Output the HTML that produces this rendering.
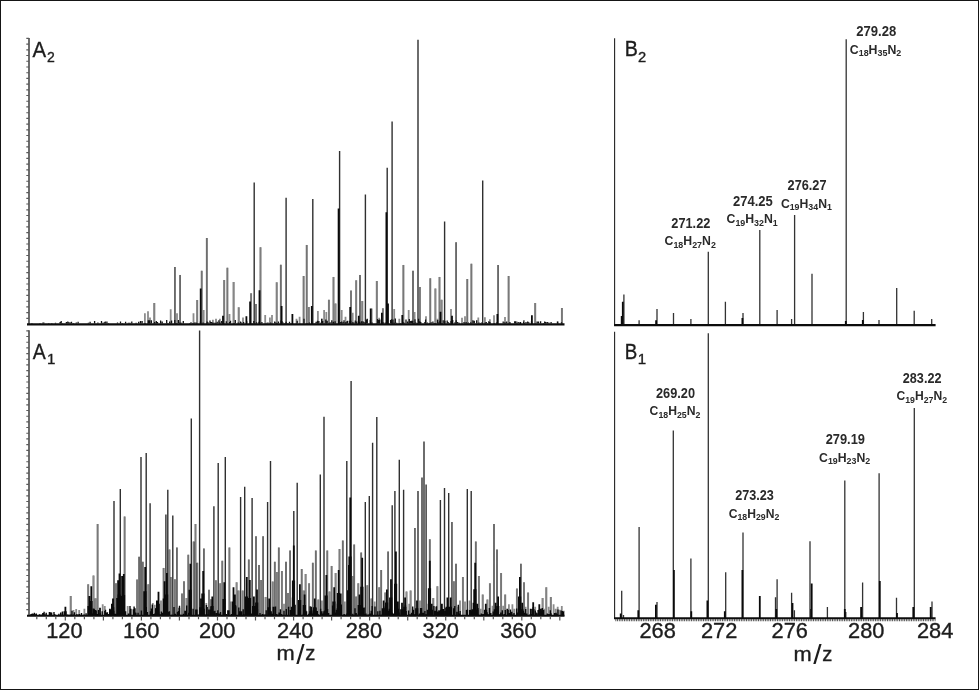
<!DOCTYPE html>
<html lang="en"><head><meta charset="utf-8"><title>Mass spectra A1 A2 B1 B2</title>
<style>html,body{margin:0;padding:0;background:#fff}body{width:979px;height:690px;overflow:hidden}svg{display:block}text{font-family:"Liberation Sans",sans-serif;fill:#1c1c1c;stroke:#1c1c1c;stroke-width:0.35px}.b{font-weight:bold;fill:#2a2a2a;stroke:none}</style></head><body>
<svg width="979" height="690" viewBox="0 0 979 690">
<rect x="0" y="0" width="979" height="690" fill="#fff"/>
<rect x="0.5" y="0.5" width="978" height="689" fill="none" stroke="#151515" stroke-width="1"/>
<g fill="none">
<path d="M144.9 324.3V313.3M148 324.3V311.2M150 324.3V317.4M170.7 324.3V309.2M177 324.3V313.3M193.5 324.3V313.3M203.7 324.3V310M212.9 324.3V319.8M216 324.3V318.8M219.9 324.3V318.8M229.5 324.3V314.1M243 324.3V317.4M265.2 324.3V315.1M269.9 324.3V317.4M272 324.3V315.1M296.5 324.3V318.8M299.6 324.3V316.8M317.9 324.3V311M322 324.3V318.8M324.1 324.3V310M326.3 324.3V312M341.7 324.3V310M345.5 324.3V316.8M352.7 324.3V312.7M371.7 324.3V308.6M379.2 324.3V317.8M394.2 324.3V309M399.3 324.3V318.8M408.7 324.3V310M414.6 324.3V312M426 324.3V316.2M437.5 324.3V318.8M451 324.3V309M462 324.3V317.8M465 324.3V316.2M478.3 324.3V317.4M484.9 324.3V317.3M489.9 324.3V319.3M494 324.3V315.2M505 324.3V317M516.8 324.3V321.4M523.9 324.3V320M557.8 324.3V321.4" stroke="#8c8c8c" stroke-width="1.8"/>
<path d="M154.3 324.3V303.1M197.2 324.3V300M224.2 324.3V280M233.6 324.3V282M238.7 324.3V307.2M251.1 324.3V293.3M256 324.3V303.9M276.7 324.3V282.2M308.8 324.3V307M328.9 324.3V299.8M335.5 324.3V303.5M351 324.3V290.6M356.2 324.3V280.2M362.3 324.3V301M376.8 324.3V281M382.9 324.3V308.2M419.9 324.3V287.1M435.4 324.3V288.4M441.6 324.3V299.8M535.2 324.3V303M561.9 324.3V308.1" stroke="#5c5c5c" stroke-width="1.9"/>
<path d="M154.3 324.3V303.1M197.2 324.3V300M224.2 324.3V280M233.6 324.3V282M238.7 324.3V307.2M251.1 324.3V293.3M256 324.3V303.9M276.7 324.3V282.2M308.8 324.3V307M328.9 324.3V299.8M335.5 324.3V303.5M351 324.3V290.6M356.2 324.3V280.2M362.3 324.3V301M376.8 324.3V281M382.9 324.3V308.2M419.9 324.3V287.1M435.4 324.3V288.4M441.6 324.3V299.8M535.2 324.3V303M561.9 324.3V308.1" stroke="#acacac" stroke-width="0.6"/>
<path d="M174.9 324.3V267.1M180.1 324.3V274.9M201.7 324.3V270.8M206.8 324.3V238.1M227.4 324.3V267.7M260.5 324.3V247.3M280.8 324.3V264.7M303.6 324.3V276.1M306.7 324.3V244.9M333.5 324.3V276.9M360 324.3V274.9M403.4 324.3V264.9M413 324.3V270.8M430.3 324.3V278.2M439.5 324.3V276.9M456.1 324.3V242.2M467.3 324.3V279M471.4 324.3V263.7M498.1 324.3V265M508.6 324.3V276.1" stroke="#4c4c4c" stroke-width="1.8"/>
<path d="M174.9 324.3V267.1M180.1 324.3V274.9M201.7 324.3V270.8M206.8 324.3V238.1M227.4 324.3V267.7M260.5 324.3V247.3M280.8 324.3V264.7M303.6 324.3V276.1M306.7 324.3V244.9M333.5 324.3V276.9M360 324.3V274.9M403.4 324.3V264.9M413 324.3V270.8M430.3 324.3V278.2M439.5 324.3V276.9M456.1 324.3V242.2M467.3 324.3V279M471.4 324.3V263.7M498.1 324.3V265M508.6 324.3V276.1" stroke="#a0a0a0" stroke-width="0.6"/>
<path d="M254.2 324.3V182.6M286.1 324.3V197.8M312.8 324.3V198.9M339.6 324.3V151.1M365.4 324.3V194.4M387.2 324.3V167.8M392.1 324.3V121.6M418 324.3V39.7M444.6 324.3V221.4M482.7 324.3V180.6" stroke="#303030" stroke-width="1.4"/>
<path d="M31.9 323.5V323M40 323.5V323M43 323.5V322.4M43.8 323.5V322.6M48.8 323.5V323M51.8 323.5V322.9M55.5 323.5V322.7M60.1 323.5V322.1M61.2 323.5V321M62.1 323.5V323M66.4 323.5V322M67.8 323.5V321.5M68.9 323.5V322.2M70.3 323.5V322.6M71.5 323.5V321.7M73.3 323.5V322.9M76.3 323.5V322.4M78.1 323.5V321.7M88.4 323.5V322.7M90.1 323.5V321.8M94.6 323.5V321.1M97.9 323.5V322.6M101.5 323.5V321.1M103 323.5V322.8M104.4 323.5V322.3M105.3 323.5V321.4M106.9 323.5V321.5M108.5 323.5V323.1M117.5 323.5V322.5M120.5 323.5V321.6M122.3 323.5V322.9M125.6 323.5V321.7M128.3 323.5V322.8M129.2 323.5V322.7M130 323.5V322.8M131.8 323.5V321.6M136.1 323.5V322.8M138.7 323.5V321.8M140.5 323.5V320.9M142.1 323.5V321.1M145 323.5V323M148.3 323.5V320.2M149.6 323.5V320.3M151.4 323.5V320.2M154.6 323.5V322.1M156.3 323.5V321M157.5 323.5V322M160.6 323.5V320.5M162.2 323.5V321.5M166.7 323.5V320.1M167.9 323.5V322.9M169.7 323.5V321.6M171.6 323.5V320.6M174.8 323.5V320M176.3 323.5V323.1M178.4 323.5V320.1M179.9 323.5V322.5M181.6 323.5V322.8M183.3 323.5V321M189.7 323.5V323M191 323.5V322.3M192.7 323.5V322.9M194.4 323.5V322.6M195.8 323.5V322.5M196.6 323.5V322.8M200.4 323.5V321.6M203.1 323.5V322.4M207.1 323.5V321.4M208.4 323.5V322.4M210 323.5V320.5M211.3 323.5V322.1M212.6 323.5V322.6M214.1 323.5V322.8M215.4 323.5V322.7M217.2 323.5V321.7M218.9 323.5V320.3M219.9 323.5V322.4M221.7 323.5V321M226.3 323.5V321.3M229.6 323.5V321.9M230.5 323.5V320.7M234.1 323.5V322.9M235.3 323.5V320M238.2 323.5V322.5M240.5 323.5V321.6M241.3 323.5V322.4M243.6 323.5V322.1M246.7 323.5V321.3M252.1 323.5V322.9M253.8 323.5V321.1M256.6 323.5V322.3M259 323.5V321.8M261.9 323.5V322.1M266.9 323.5V322.8M268 323.5V322.4M270.7 323.5V322.5M274.7 323.5V321.4M275.8 323.5V322.6M276.8 323.5V323.1M278.4 323.5V321.6M281 323.5V320.4M281.9 323.5V321.1M283.1 323.5V322.6M284.8 323.5V322.9M286.1 323.5V321.8M287.9 323.5V323.1M289.5 323.5V321.7M291 323.5V322.9M297.2 323.5V320.8M304 323.5V318.8M307.1 323.5V323M309.4 323.5V322.4M315.1 323.5V323M316.1 323.5V321.8M317.5 323.5V320.7M318.9 323.5V320.9M320.6 323.5V322.7M321.7 323.5V318.7M322.7 323.5V320.9M325.8 323.5V319.5M327.2 323.5V320.8M330.1 323.5V322.2M331.8 323.5V320.3M333.4 323.5V321.8M335.1 323.5V321.2M340.3 323.5V321.9M341.7 323.5V321.5M343.2 323.5V322.3M344 323.5V320.3M345.5 323.5V322.2M346.9 323.5V321.3M347.7 323.5V320.8M349.8 323.5V320.8M350.8 323.5V320.8M352.6 323.5V322.3M353.8 323.5V322.4M355.3 323.5V320.6M356.7 323.5V321.4M358.6 323.5V320.7M359.7 323.5V321.9M361.5 323.5V321.2M363 323.5V321.2M364.1 323.5V322.2M365.4 323.5V322.4M366.3 323.5V319.5M367.3 323.5V318.7M370.3 323.5V320.1M372.1 323.5V322.5M377.6 323.5V319M378.5 323.5V320.1M379.8 323.5V319.6M383.1 323.5V322.3M385.2 323.5V322.5M387.4 323.5V323M390.6 323.5V320M391.5 323.5V319.2M393 323.5V319.4M394.1 323.5V322.8M395.3 323.5V318.5M396.7 323.5V322.8M400.4 323.5V323.1M403.2 323.5V322.2M404.2 323.5V322.8M406 323.5V319.6M407.6 323.5V321.5M409.3 323.5V319.1M410.7 323.5V320.9M411.5 323.5V320.8M412.7 323.5V320.7M414.2 323.5V323.1M415 323.5V319.2M415.9 323.5V322.4M417.1 323.5V323.1M418.6 323.5V318.7M419.7 323.5V321.3M420.8 323.5V321.9M424.6 323.5V322.3M425.6 323.5V319.4M427.5 323.5V322.5M429.3 323.5V322.9M431.2 323.5V322.3M432.9 323.5V321.5M434.1 323.5V322.9M435.4 323.5V323M437.6 323.5V320.1M438.5 323.5V322.6M440 323.5V320.8M442 323.5V322.9M443.2 323.5V320.2M444.9 323.5V320.8M447.2 323.5V320.6M448.5 323.5V322.3M449.3 323.5V322.9M451 323.5V321M452.7 323.5V320.1M454.7 323.5V322.5M456.2 323.5V320.3M457.7 323.5V322M459.3 323.5V322.7M464 323.5V322M466.1 323.5V322M468.4 323.5V322.5M469.8 323.5V323M470.8 323.5V322.2M472.9 323.5V320.2M474.3 323.5V320.7M476.7 323.5V320.2M479 323.5V322.6M480.5 323.5V323.1M481.5 323.5V322.4M485.3 323.5V322.4M486.3 323.5V322M487.8 323.5V322.9M488.8 323.5V321.2M489.9 323.5V321.9M494.3 323.5V322.9M496.5 323.5V322.4M503.2 323.5V321.6M504.9 323.5V322.2M506.7 323.5V321.4M509.6 323.5V322.2M510.4 323.5V322.4M514.7 323.5V321.3M515.6 323.5V321.3M518.2 323.5V321.9M523.6 323.5V321.6M524.4 323.5V323.1M526 323.5V322.1M527.7 323.5V321.5M528.8 323.5V322.2M531.5 323.5V321.3M537.1 323.5V321.5M538.5 323.5V321.4M540.6 323.5V321.3M543.4 323.5V323.1M544.7 323.5V321.4M545.7 323.5V322M547.3 323.5V321.9M548.8 323.5V322.6M551.1 323.5V322M557.5 323.5V321.6M561.5 323.5V322.3" stroke="#111" stroke-width="1.3"/>
<path d="M200.7 324.3V288.6M223 324.3V315.7M246.4 324.3V316.2M250.1 324.3V301.4M259.5 324.3V290.2M281.6 324.3V305.9M292.4 324.3V314.1M311.8 324.3V305.9M338.6 324.3V208.5M350.2 324.3V307M358.8 324.3V315.7M370.7 324.3V308.6M381.9 324.3V312.7M386.4 324.3V212.2M388 324.3V303.5M402.3 324.3V315.1M440.5 324.3V311.7M452 324.3V315.7M497.4 324.3V314M520.3 324.3V321.9M531.9 324.3V315.2" stroke="#0a0a0a" stroke-width="1.8"/>
<path d="M29.0 38V325" stroke="#3c3c3c" stroke-width="1.5"/>
<path d="M26.3 38.4H29.0M26.3 44.1H29.0M26.3 49.8H29.0M26.3 55.5H29.0M26.3 61.2H29.0M26.3 67H29.0M26.3 72.7H29.0M26.3 78.4H29.0M26.3 84.1H29.0M26.3 89.8H29.0M26.3 95.5H29.0M26.3 101.2H29.0M26.3 106.9H29.0M26.3 112.7H29.0M26.3 118.4H29.0M26.3 124.1H29.0M26.3 129.8H29.0M26.3 135.5H29.0M26.3 141.2H29.0M26.3 146.9H29.0M26.3 152.6H29.0M26.3 158.4H29.0M26.3 164.1H29.0M26.3 169.8H29.0M26.3 175.5H29.0M26.3 181.2H29.0M26.3 186.9H29.0M26.3 192.6H29.0M26.3 198.3H29.0M26.3 204H29.0M26.3 209.8H29.0M26.3 215.5H29.0M26.3 221.2H29.0M26.3 226.9H29.0M26.3 232.6H29.0M26.3 238.3H29.0M26.3 244H29.0M26.3 249.7H29.0M26.3 255.5H29.0M26.3 261.2H29.0M26.3 266.9H29.0M26.3 272.6H29.0M26.3 278.3H29.0M26.3 284H29.0M26.3 289.7H29.0M26.3 295.4H29.0M26.3 301.2H29.0M26.3 306.9H29.0M26.3 312.6H29.0M26.3 318.3H29.0" stroke="#5a5a5a" stroke-width="1.15"/>
<path d="M27 324.3H564.5" stroke="#0c0c0c" stroke-width="2.3"/>
</g>
<g fill="none">
<path d="M73.5 615.7V610M76.2 615.7V609M79.2 615.7V610M84.4 615.7V608.8M102.7 615.7V604.3M104.8 615.7V606.1M127.7 615.7V606.1M130.3 615.7V609.8M152.8 615.7V603.1M154.8 615.7V604.7M161 615.7V600.6M206.3 615.7V603.1M230.4 615.7V601.6M284 615.7V603.7M321.9 615.7V600.6M344.8 615.7V601.6M374.7 615.7V601.6M409.2 615.7V603.7M412.7 615.7V608.8M420 615.7V600.6M435.8 615.7V606.7M458.2 615.7V606.7M460 615.7V600.6M465 615.7V601.6M469.5 615.7V600.6M480.7 615.7V608.8M492.5 615.7V605.7M503.2 615.7V605.7M508.9 615.7V604.3M512.4 615.7V604.3M514.4 615.7V608.8M525.6 615.7V606.7M535.2 615.7V606.7M544.2 615.7V608.8M548.7 615.7V606.7M553.6 615.7V604.3M555.7 615.7V608.8M557.7 615.7V606.7M559.8 615.7V609.8M561.8 615.7V606.1M563.8 615.7V610.8" stroke="#8c8c8c" stroke-width="1.8"/>
<path d="M70.7 615.7V596.1M88.2 615.7V584.3M93.5 615.7V575.5M95.6 615.7V598.2M116 615.7V583.3M137.1 615.7V579.6M148.3 615.7V584.3M170.8 615.7V577.1M174.9 615.7V579.2M182 615.7V593.5M184 615.7V581.2M186.5 615.7V598M209 615.7V589.8M211 615.7V599.2M215.9 615.7V580.2M220.2 615.7V583.3M236.6 615.7V582.2M238.6 615.7V590.4M242.7 615.7V590.4M261.1 615.7V580M265.6 615.7V596.9M272.7 615.7V581.6M276.8 615.7V572M281.9 615.7V571M288 615.7V592.9M303.6 615.7V590.4M305.6 615.7V574.1M309.1 615.7V583.3M318.3 615.7V599.6M329.5 615.7V591.4M335.6 615.7V573M352.6 615.7V576.1M356.1 615.7V596.5M358.3 615.7V583.3M367.3 615.7V585.3M371.4 615.7V598.6M379.2 615.7V587.3M385.3 615.7V592.4M406.5 615.7V591.4M410.6 615.7V590.4M433.3 615.7V598M437.4 615.7V586.3M453.9 615.7V581.2M462.9 615.7V577.1M478.9 615.7V576.1M482.7 615.7V594.5M487.4 615.7V599.6M489.9 615.7V583.3M501.1 615.7V573M505.2 615.7V594.5M516.9 615.7V588.4M524 615.7V582.2M528.1 615.7V592.4M542.6 615.7V598M546.3 615.7V587.3M550.8 615.7V597" stroke="#5c5c5c" stroke-width="1.9"/>
<path d="M70.7 615.7V596.1M88.2 615.7V584.3M93.5 615.7V575.5M95.6 615.7V598.2M116 615.7V583.3M137.1 615.7V579.6M148.3 615.7V584.3M170.8 615.7V577.1M174.9 615.7V579.2M182 615.7V593.5M184 615.7V581.2M186.5 615.7V598M209 615.7V589.8M211 615.7V599.2M215.9 615.7V580.2M220.2 615.7V583.3M236.6 615.7V582.2M238.6 615.7V590.4M242.7 615.7V590.4M261.1 615.7V580M265.6 615.7V596.9M272.7 615.7V581.6M276.8 615.7V572M281.9 615.7V571M288 615.7V592.9M303.6 615.7V590.4M305.6 615.7V574.1M309.1 615.7V583.3M318.3 615.7V599.6M329.5 615.7V591.4M335.6 615.7V573M352.6 615.7V576.1M356.1 615.7V596.5M358.3 615.7V583.3M367.3 615.7V585.3M371.4 615.7V598.6M379.2 615.7V587.3M385.3 615.7V592.4M406.5 615.7V591.4M410.6 615.7V590.4M433.3 615.7V598M437.4 615.7V586.3M453.9 615.7V581.2M462.9 615.7V577.1M478.9 615.7V576.1M482.7 615.7V594.5M487.4 615.7V599.6M489.9 615.7V583.3M501.1 615.7V573M505.2 615.7V594.5M516.9 615.7V588.4M524 615.7V582.2M528.1 615.7V592.4M542.6 615.7V598M546.3 615.7V587.3M550.8 615.7V597" stroke="#acacac" stroke-width="0.6"/>
<path d="M97.6 615.7V524M124.6 615.7V516.4M139.1 615.7V556.7M142.8 615.7V561.8M163.6 615.7V567.9M169.5 615.7V549.5M176.9 615.7V547.5M188.3 615.7V554.7M193.6 615.7V541.4M195.5 615.7V524M197.3 615.7V562.8M203.9 615.7V548.5M222.3 615.7V560.8M229.4 615.7V547.5M248.8 615.7V559.4M256 615.7V536.3M259 615.7V564.9M263.1 615.7V536.3M274.8 615.7V561.8M278.8 615.7V547.5M286 615.7V561.8M290.1 615.7V550.6M301.7 615.7V569M312.8 615.7V562.8M315.8 615.7V550.6M327.3 615.7V550.6M331.6 615.7V565.9M339.5 615.7V549.1M342.8 615.7V540.4M354.2 615.7V544.4M361.2 615.7V552.6M381.2 615.7V570M388.1 615.7V551.6M414.9 615.7V528.1M429.8 615.7V539.3M451.9 615.7V522M456 615.7V563.8M475.8 615.7V541.4M494 615.7V524M497 615.7V549.5M520.9 615.7V563.8" stroke="#4c4c4c" stroke-width="1.8"/>
<path d="M97.6 615.7V524M124.6 615.7V516.4M139.1 615.7V556.7M142.8 615.7V561.8M163.6 615.7V567.9M169.5 615.7V549.5M176.9 615.7V547.5M188.3 615.7V554.7M193.6 615.7V541.4M195.5 615.7V524M197.3 615.7V562.8M203.9 615.7V548.5M222.3 615.7V560.8M229.4 615.7V547.5M248.8 615.7V559.4M256 615.7V536.3M259 615.7V564.9M263.1 615.7V536.3M274.8 615.7V561.8M278.8 615.7V547.5M286 615.7V561.8M290.1 615.7V550.6M301.7 615.7V569M312.8 615.7V562.8M315.8 615.7V550.6M327.3 615.7V550.6M331.6 615.7V565.9M339.5 615.7V549.1M342.8 615.7V540.4M354.2 615.7V544.4M361.2 615.7V552.6M381.2 615.7V570M388.1 615.7V551.6M414.9 615.7V528.1M429.8 615.7V539.3M451.9 615.7V522M456 615.7V563.8M475.8 615.7V541.4M494 615.7V524M497 615.7V549.5M520.9 615.7V563.8" stroke="#a0a0a0" stroke-width="0.6"/>
<path d="M114 615.7V501.1M120.3 615.7V489M141 615.7V456.9M146.2 615.7V453M150.1 615.7V503.2M165.9 615.7V514.4M167.8 615.7V489.8M172.8 615.7V515.4M191.3 615.7V418.6M199.6 615.7V330.4M213.9 615.7V506.2M218.2 615.7V463M225.3 615.7V456.9M240.6 615.7V497M244.7 615.7V486.8M252.1 615.7V498.1M267.6 615.7V502.1M270.5 615.7V461.1M293.8 615.7V511.1M297.2 615.7V482.7M320.3 615.7V474.5M324 615.7V416.7M346.8 615.7V461.1M351.1 615.7V380.9M365.3 615.7V502.1M369.3 615.7V496M372.6 615.7V442.7M376.8 615.7V416.9M392.2 615.7V505.2M394.9 615.7V490.9M399.3 615.7V459.8M403.6 615.7V489.8M418 615.7V490.9M422 615.7V477.5M424 615.7V441.5M426.1 615.7V484.6M440.4 615.7V500.1M444.5 615.7V487.9M448.7 615.7V493M467.3 615.7V489M471.2 615.7V491" stroke="#303030" stroke-width="1.4"/>
<path d="M31 615.2V614M32.3 615.2V613.4M33.7 615.2V613.8M34.4 615.2V612.8M35.3 615.2V614.2M36.3 615.2V613.4M39.5 615.2V614.2M40.4 615.2V614.7M42 615.2V614.4M42.8 615.2V613M44.1 615.2V611.8M44.8 615.2V614.5M46.2 615.2V612.8M49.4 615.2V611.9M50.6 615.2V612.2M51.6 615.2V612.6M54 615.2V612.1M54.7 615.2V614.1M58.9 615.2V613.8M60.7 615.2V612.6M61.5 615.2V614.7M62.4 615.2V611.6M64.3 615.2V614.4M65.4 615.2V613M67.4 615.2V614.4M68.3 615.2V614.8M69.8 615.2V614.7M71 615.2V614.6M72 615.2V610.8M73.6 615.2V614.6M74.4 615.2V612.2M76.7 615.2V614.3M78.1 615.2V614.4M79.5 615.2V614.1M81.5 615.2V612.9M84.1 615.2V614.5M86.1 615.2V613.3M88.7 615.2V610.2M91 615.2V608.2M92.5 615.2V613.6M93.2 615.2V608.4M94.2 615.2V608.8M95.4 615.2V610M96.2 615.2V610.5M97.1 615.2V614.1M98.5 615.2V609.9M100.3 615.2V613.3M102.2 615.2V611.3M104.8 615.2V610.9M105.5 615.2V609.8M106.2 615.2V612.6M107.4 615.2V612.3M108.3 615.2V614M109.5 615.2V614M110.7 615.2V613.8M113 615.2V613.5M113.8 615.2V610.8M115.2 615.2V613.8M116 615.2V613.7M118.9 615.2V613.4M119.6 615.2V612.2M120.3 615.2V611.2M121.6 615.2V613.4M122.3 615.2V613.4M123.3 615.2V608M124.1 615.2V609.5M125.6 615.2V611.2M128.5 615.2V613.5M130 615.2V606.1M130.9 615.2V608.7M133.3 615.2V609.3M134.1 615.2V606.5M135 615.2V608.2M135.8 615.2V612.8M138.1 615.2V612.7M141.4 615.2V610.5M145.3 615.2V611.1M146.3 615.2V607M147.4 615.2V611.9M150.4 615.2V611.2M151.4 615.2V608.5M152.3 615.2V604.4M153.5 615.2V614M154.8 615.2V613.4M155.6 615.2V609.5M156.3 615.2V608.1M157.2 615.2V611.1M158.7 615.2V611.8M160 615.2V614.3M161.4 615.2V611.4M162.5 615.2V612.7M164.8 615.2V610.9M167.4 615.2V614.8M168.6 615.2V611.8M169.4 615.2V611.3M172 615.2V614.7M174 615.2V607.1M175.4 615.2V613.7M177.5 615.2V612.1M178.4 615.2V611M179.5 615.2V605.7M180.8 615.2V614.7M183.4 615.2V613.7M186.7 615.2V605.6M188.7 615.2V612.7M189.9 615.2V608.2M190.8 615.2V614.4M193.1 615.2V608.8M195.8 615.2V609.4M196.9 615.2V609.5M197.9 615.2V614.8M198.7 615.2V614.8M199.4 615.2V614.2M200.7 615.2V610.3M202.1 615.2V610M203 615.2V612.2M204.1 615.2V608.7M205.2 615.2V614.6M206.4 615.2V605M207.2 615.2V606.9M207.9 615.2V614.6M208.8 615.2V609.5M210.3 615.2V609.4M211.2 615.2V606.9M212.2 615.2V614.7M213.6 615.2V611.2M214.9 615.2V610.7M216.4 615.2V613.1M217.8 615.2V610.2M219.2 615.2V613.4M220.5 615.2V612M226.3 615.2V614.1M227.8 615.2V610.3M229 615.2V610.2M231.5 615.2V614M232.9 615.2V608.1M235.7 615.2V606.2M238.8 615.2V607.6M240.1 615.2V611.2M241.5 615.2V611.2M243.2 615.2V609.2M244 615.2V614.3M245.9 615.2V614.5M247.2 615.2V614M248.2 615.2V605.1M249.3 615.2V607.5M251.5 615.2V613.4M252.8 615.2V614.1M254.1 615.2V612.4M255 615.2V607.3M255.7 615.2V608.1M257.4 615.2V609.1M260 615.2V612.9M262.4 615.2V614.1M263.8 615.2V614.6M265.3 615.2V614.5M266.2 615.2V610.2M269.8 615.2V610.2M271.2 615.2V611.2M272.2 615.2V613.7M273.2 615.2V606.7M273.9 615.2V606.7M275.5 615.2V606.4M276.6 615.2V613.9M278 615.2V614.8M279.1 615.2V612.5M280.4 615.2V609.3M281.6 615.2V614.1M284 615.2V610.8M286.3 615.2V608.9M288.6 615.2V606.8M290.4 615.2V610.1M292.6 615.2V614.7M293.5 615.2V612.6M294.3 615.2V614.3M295.1 615.2V604.8M299 615.2V604.6M300.3 615.2V609.6M303.4 615.2V613.8M304.1 615.2V613.7M305.5 615.2V610.3M306.6 615.2V611.2M308.8 615.2V613.7M310.1 615.2V606.3M311.2 615.2V612M312.5 615.2V613.6M313.4 615.2V609.8M314.8 615.2V608.9M316.1 615.2V607.5M317.3 615.2V611.1M318.4 615.2V614.3M320.6 615.2V608.8M321.9 615.2V611.2M322.8 615.2V613.5M323.9 615.2V611.3M324.9 615.2V610.6M327.6 615.2V608.9M328.6 615.2V612.9M332.6 615.2V605.6M334.9 615.2V612.4M336.2 615.2V612.7M337.4 615.2V607.9M338.5 615.2V613.7M341.3 615.2V613.8M344.1 615.2V614.1M344.8 615.2V614.6M346.9 615.2V613.6M348.1 615.2V614.1M349 615.2V614.8M350.4 615.2V605.6M352.8 615.2V613.8M355 615.2V608.3M356.2 615.2V613.1M357.4 615.2V614.8M358.9 615.2V614.1M360.1 615.2V608.1M361.5 615.2V613.1M362.4 615.2V612.3M363.2 615.2V607.8M364.2 615.2V607.5M365.1 615.2V613.9M366 615.2V613.5M368.1 615.2V614.5M368.9 615.2V614.4M370 615.2V613.5M371.2 615.2V610.8M372.2 615.2V605.9M375 615.2V606.4M377.8 615.2V611.2M379.9 615.2V610.8M381.6 615.2V614.8M382.9 615.2V614.1M383.7 615.2V606.4M386.5 615.2V611.5M387.9 615.2V610.7M389.3 615.2V608.7M392 615.2V612.5M393.3 615.2V613.4M394.8 615.2V612.2M395.6 615.2V614.7M396.4 615.2V612.9M397.1 615.2V613.1M397.9 615.2V612.9M399 615.2V612.4M401.8 615.2V613.1M403 615.2V610.7M404.4 615.2V613.9M405.4 615.2V605.1M406.2 615.2V611.1M408.6 615.2V610.5M410.1 615.2V614.2M411.6 615.2V612.7M412.7 615.2V606.5M413.4 615.2V609.9M414.6 615.2V614.2M416 615.2V614M417.1 615.2V612.5M419.4 615.2V613.5M420.6 615.2V608M421.5 615.2V607.9M422.5 615.2V612.8M423.4 615.2V612.7M424.9 615.2V610.9M426.3 615.2V614.2M427.2 615.2V614.4M428.4 615.2V611.2M431.1 615.2V606.8M433.9 615.2V606M435.1 615.2V610.8M436.5 615.2V606.3M437.7 615.2V611.4M438.9 615.2V610.2M440.1 615.2V610.5M440.9 615.2V610.7M442 615.2V609.1M443.4 615.2V608.9M444.9 615.2V610.9M445.9 615.2V608M447.2 615.2V612.1M448.1 615.2V614.4M449.2 615.2V614.3M450.2 615.2V611.1M453.6 615.2V608.3M454.8 615.2V606.1M456.8 615.2V611.7M458.3 615.2V604.7M459.4 615.2V613.6M460.1 615.2V611M466.5 615.2V609.9M467.4 615.2V609.6M469.6 615.2V610M471 615.2V609.7M471.7 615.2V611.2M473 615.2V613.2M474.5 615.2V614.7M476 615.2V609.9M477.9 615.2V608.1M478.6 615.2V614.4M481.3 615.2V613.6M482.1 615.2V614.3M483.2 615.2V613.9M485.8 615.2V614.3M487.1 615.2V612.3M488.1 615.2V614.2M489.4 615.2V608.1M490.8 615.2V612.9M493.2 615.2V611.5M494.6 615.2V614.5M495.8 615.2V607.6M497.2 615.2V612.6M498.1 615.2V614M499.6 615.2V614.3M500.8 615.2V612.6M502.3 615.2V610.2M504.1 615.2V614M505.3 615.2V610.1M508.1 615.2V610.1M509.5 615.2V612.9M510.4 615.2V609.6M511.8 615.2V611.7M513.3 615.2V614.4M514 615.2V613M516.7 615.2V608.4M517.5 615.2V612.5M518.8 615.2V613.7M521 615.2V610.4M523.4 615.2V610.7M524.3 615.2V612.8M525.7 615.2V609.1M526.8 615.2V613.6M530.1 615.2V614.3M531.3 615.2V614.1M533.1 615.2V607.3M535.3 615.2V610.5M536.1 615.2V612.6M537.1 615.2V613.3M539.3 615.2V609.4M540.4 615.2V612.9M541.2 615.2V610.6M542.3 615.2V608.1M543.6 615.2V610M547.3 615.2V613.5M548.8 615.2V614.1M550.3 615.2V610.3M551 615.2V613.3M554.6 615.2V612.9M556.1 615.2V612.7M557.2 615.2V614.2M558 615.2V609.6M561.1 615.2V610.4M562.6 615.2V611.1M563.3 615.2V611.7" stroke="#0a0a0a" stroke-width="1.4"/>
<path d="M65.4 615.7V606.7M89.3 615.7V596.1M91.3 615.7V586.3M100 615.7V607.8M109.9 615.7V608.8M111.9 615.7V603.7M113 615.7V598.6M118.1 615.7V580.2M119.5 615.7V573.4M122.1 615.7V576.1M123.8 615.7V574.1M134.4 615.7V611.9M145.2 615.7V566.9M156.9 615.7V600.6M158.5 615.7V591.8M164.6 615.7V581.2M166.9 615.7V573M179.3 615.7V607.8M185.1 615.7V610.8M190.4 615.7V563.8M201 615.7V598.6M203.2 615.7V571M212.3 615.7V596.5M224.3 615.7V582.2M233.5 615.7V587.3M234.9 615.7V594.5M246.8 615.7V577.1M249.8 615.7V580M253.9 615.7V596.5M257 615.7V589.4M269.2 615.7V598.6M292.7 615.7V597.6M293.8 615.7V545.5M299.9 615.7V584.3M304.6 615.7V594.5M311.1 615.7V606.7M314.8 615.7V598.6M326.4 615.7V575.1M334.2 615.7V587.3M337.7 615.7V603.7M338.7 615.7V570M340.7 615.7V593.5M348.9 615.7V564.9M350.3 615.7V497.4M359.5 615.7V594.5M362.2 615.7V557.7M383.6 615.7V600.6M386.9 615.7V589.4M391 615.7V579.2M395.9 615.7V551.6M397.9 615.7V601.6M402 615.7V602.7M405.1 615.7V597.6M417 615.7V600.6M428.6 615.7V603.7M429.8 615.7V560.8M431.7 615.7V603.7M441.9 615.7V603.7M447.4 615.7V597.6M450.7 615.7V597.6M473.5 615.7V602.7M475.2 615.7V562.8M477.2 615.7V603.7M485.8 615.7V603.7M495.6 615.7V602.7M498.1 615.7V596.5M507.3 615.7V608.8M519.9 615.7V577.1M522.2 615.7V602.7M530.7 615.7V608.8M533.2 615.7V602.3M539.3 615.7V604.3M541 615.7V608.8" stroke="#0a0a0a" stroke-width="1.8"/>
<path d="M65.1 615.7V611.2M89 615.7V605.9M91 615.7V601M111.6 615.7V609.7M112.7 615.7V607.2M117.8 615.7V598M119.2 615.7V594.5M121.8 615.7V595.9M123.5 615.7V594.9M144.9 615.7V591.3M156.6 615.7V608.2M158.2 615.7V603.8M164.3 615.7V598.5M166.6 615.7V594.4M190.1 615.7V589.8M200.7 615.7V607.2M202.9 615.7V593.4M212 615.7V606.1M224 615.7V599M233.2 615.7V601.5M234.6 615.7V605.1M246.5 615.7V596.4M249.5 615.7V597.9M253.6 615.7V606.1M256.7 615.7V602.5M268.9 615.7V607.2M292.4 615.7V606.7M293.5 615.7V580.6M299.6 615.7V600M304.3 615.7V605.1M310.8 615.7V611.2M314.5 615.7V607.2M326.1 615.7V595.4M333.9 615.7V601.5M337.4 615.7V609.7M338.4 615.7V592.9M340.4 615.7V604.6M348.6 615.7V590.3M350 615.7V556.5M359.2 615.7V605.1M361.9 615.7V586.7M383.3 615.7V608.2M386.6 615.7V602.5M390.7 615.7V597.5M395.6 615.7V583.7M397.6 615.7V608.7M401.7 615.7V609.2M404.8 615.7V606.7M416.7 615.7V608.2M428.3 615.7V609.7M429.5 615.7V588.2M431.4 615.7V609.7M441.6 615.7V609.7M447.1 615.7V606.7M450.4 615.7V606.7M473.2 615.7V609.2M474.9 615.7V589.2M476.9 615.7V609.7M485.5 615.7V609.7M495.3 615.7V609.2M497.8 615.7V606.1M519.6 615.7V596.4M521.9 615.7V609.2M532.9 615.7V609M539 615.7V610" stroke="#0a0a0a" stroke-width="3.2"/>
<path d="M29.0 330.2V616" stroke="#3c3c3c" stroke-width="1.5"/>
<path d="M26.3 330.8H29.0M26.3 336.5H29.0M26.3 342.2H29.0M26.3 347.9H29.0M26.3 353.6H29.0M26.3 359.2H29.0M26.3 364.9H29.0M26.3 370.6H29.0M26.3 376.3H29.0M26.3 382H29.0M26.3 387.7H29.0M26.3 393.4H29.0M26.3 399.1H29.0M26.3 404.8H29.0M26.3 410.5H29.0M26.3 416.2H29.0M26.3 421.8H29.0M26.3 427.5H29.0M26.3 433.2H29.0M26.3 438.9H29.0M26.3 444.6H29.0M26.3 450.3H29.0M26.3 456H29.0M26.3 461.7H29.0M26.3 467.4H29.0M26.3 473.1H29.0M26.3 478.7H29.0M26.3 484.4H29.0M26.3 490.1H29.0M26.3 495.8H29.0M26.3 501.5H29.0M26.3 507.2H29.0M26.3 512.9H29.0M26.3 518.6H29.0M26.3 524.3H29.0M26.3 530H29.0M26.3 535.6H29.0M26.3 541.3H29.0M26.3 547H29.0M26.3 552.7H29.0M26.3 558.4H29.0M26.3 564.1H29.0M26.3 569.8H29.0M26.3 575.5H29.0M26.3 581.2H29.0M26.3 586.9H29.0M26.3 592.5H29.0M26.3 598.2H29.0M26.3 603.9H29.0M26.3 609.6H29.0" stroke="#5a5a5a" stroke-width="1.15"/>
<path d="M27 615.7H564.5" stroke="#0c0c0c" stroke-width="2.1"/>
<path d="M36.8 616.5V619.2M46.3 616.5V619.2M55.8 616.5V619.2M65.3 616.5V620.6M74.8 616.5V619.2M84.4 616.5V619.2M93.9 616.5V619.2M103.4 616.5V620.6M112.9 616.5V619.2M122.4 616.5V619.2M131.9 616.5V619.2M141.4 616.5V620.6M150.9 616.5V619.2M160.4 616.5V619.2M169.9 616.5V619.2M179.4 616.5V620.6M189 616.5V619.2M198.5 616.5V619.2M208 616.5V619.2M217.5 616.5V620.6M227 616.5V619.2M236.5 616.5V619.2M246 616.5V619.2M255.5 616.5V620.6M265 616.5V619.2M274.5 616.5V619.2M284.1 616.5V619.2M293.6 616.5V620.6M303.1 616.5V619.2M312.6 616.5V619.2M322.1 616.5V619.2M331.6 616.5V620.6M341.1 616.5V619.2M350.6 616.5V619.2M360.1 616.5V619.2M369.6 616.5V620.6M379.2 616.5V619.2M388.7 616.5V619.2M398.2 616.5V619.2M407.7 616.5V620.6M417.2 616.5V619.2M426.7 616.5V619.2M436.2 616.5V619.2M445.7 616.5V620.6M455.2 616.5V619.2M464.7 616.5V619.2M474.3 616.5V619.2M483.8 616.5V620.6M493.3 616.5V619.2M502.8 616.5V619.2M512.3 616.5V619.2M521.8 616.5V620.6M531.3 616.5V619.2M540.8 616.5V619.2M550.3 616.5V619.2M559.8 616.5V620.6" stroke="#555" stroke-width="1.2"/>
</g>
<g fill="none">
<path d="M623.9 324.6V294.6M639.1 324.6V320.2M657 324.6V308.9M673.5 324.6V313M690.9 324.6V319.1M708.3 324.6V251.7M725.4 324.6V301.7M743 324.6V313M759.8 324.6V230M777.1 324.6V310M791.6 324.6V319.1M794.6 324.6V215M812 324.6V273.8M846.2 324.6V39.3M863.4 324.6V312M879 324.6V320M896.7 324.6V288.1M914.2 324.6V310.7M931.7 324.6V318.9" stroke="#333" stroke-width="1.3"/>
<path d="M621.7 324.6V315.9M622.8 324.6V301.7M656.1 324.6V320.2M742.4 324.6V318M845.8 324.6V321M862.8 324.6V320" stroke="#0a0a0a" stroke-width="1.8"/>
<path d="M614.6 38.2V326" stroke="#222" stroke-width="1.1"/>
<path d="M614.1 325.1H935.6" stroke="#0c0c0c" stroke-width="2.1"/>
</g>
<g fill="none">
<path d="M621.7 618V590.7M623.5 618V615M639.1 618V527M657 618V602M673.3 618V430.4M690.9 618V558.5M708.3 618V333.3M725.7 618V572.2M743 618V532.4M775.5 618V597.2M777.1 618V579.3M791.6 618V592.8M794.4 618V610.2M810 618V541.3M827.4 618V607M844.8 618V480.4M845.8 618V612M862.6 618V582.4M879.1 618V473.3M896.5 618V597.8M914.3 618V408M932 618V601.5" stroke="#333" stroke-width="1.3"/>
<path d="M620.7 618V613.5M638.3 618V610.2M655.9 618V604.8M673.9 618V570M691.3 618V611.3M707.4 618V600.4M724.8 618V611.3M742.4 618V570M759.8 618V596.1M776.3 618V609M792.5 618V603M811.7 618V583.5M811.1 618V609M844.8 618V609M861.1 618V607M879.8 618V580.9M897 618V613M913.3 618V607M930.7 618V607" stroke="#0a0a0a" stroke-width="1.8"/>
<path d="M614.6 331.7V619" stroke="#222" stroke-width="1.1"/>
<path d="M614 618.2H935.6" stroke="#0c0c0c" stroke-width="1.9"/>
<path d="M615.4 620.2H935.6" stroke="#444" stroke-width="2.2" stroke-dasharray="0.9 0.819"/>
</g>
<text x="32.6" y="56.7" font-size="21.5" textLength="13.6" lengthAdjust="spacingAndGlyphs">A</text>
<text x="47" y="61.7" font-size="15.2" textLength="7.8" lengthAdjust="spacingAndGlyphs">2</text>
<text x="32.8" y="359.3" font-size="21.5" textLength="13" lengthAdjust="spacingAndGlyphs">A</text>
<text x="46.9" y="364" font-size="15.2" textLength="8.4" lengthAdjust="spacingAndGlyphs">1</text>
<text x="624.7" y="56.3" font-size="21.5" textLength="13.1" lengthAdjust="spacingAndGlyphs">B</text>
<text x="637.9" y="61.9" font-size="15.2" textLength="8.2" lengthAdjust="spacingAndGlyphs">2</text>
<text x="624.7" y="359.3" font-size="21.5" textLength="12.5" lengthAdjust="spacingAndGlyphs">B</text>
<text x="637.8" y="364.1" font-size="15.2" textLength="8.4" lengthAdjust="spacingAndGlyphs">1</text>
<text x="46.2" y="637.9" font-size="21.4" textLength="36.4" lengthAdjust="spacingAndGlyphs">120</text>
<text x="123.1" y="637.9" font-size="21.4" textLength="36.4" lengthAdjust="spacingAndGlyphs">160</text>
<text x="199" y="637.9" font-size="21.4" textLength="36.4" lengthAdjust="spacingAndGlyphs">200</text>
<text x="277" y="637.9" font-size="21.4" textLength="36.4" lengthAdjust="spacingAndGlyphs">240</text>
<text x="345.7" y="637.9" font-size="21.4" textLength="36.4" lengthAdjust="spacingAndGlyphs">280</text>
<text x="422.5" y="637.9" font-size="21.4" textLength="36.4" lengthAdjust="spacingAndGlyphs">320</text>
<text x="500.2" y="637.9" font-size="21.4" textLength="36.4" lengthAdjust="spacingAndGlyphs">360</text>
<text y="660.4" font-size="20.2"><tspan x="276.5" textLength="18.2" lengthAdjust="spacingAndGlyphs">m</tspan><tspan x="296.3" dy="3.2" font-size="27.2" textLength="8.4" lengthAdjust="spacingAndGlyphs" style="stroke-width:0">/</tspan><tspan x="305.3" dy="-3.2">z</tspan></text>
<text x="639.4" y="637.7" font-size="21.4" textLength="36.4" lengthAdjust="spacingAndGlyphs">268</text>
<text x="700.9" y="637.7" font-size="21.4" textLength="36.4" lengthAdjust="spacingAndGlyphs">272</text>
<text x="771.6" y="637.7" font-size="21.4" textLength="36.4" lengthAdjust="spacingAndGlyphs">276</text>
<text x="848" y="637.7" font-size="21.4" textLength="36.4" lengthAdjust="spacingAndGlyphs">280</text>
<text x="916.9" y="637.7" font-size="21.4" textLength="36.4" lengthAdjust="spacingAndGlyphs">284</text>
<text y="660.8" font-size="20.2"><tspan x="793.5" textLength="18.2" lengthAdjust="spacingAndGlyphs">m</tspan><tspan x="813.3" dy="3.2" font-size="27.2" textLength="8.4" lengthAdjust="spacingAndGlyphs" style="stroke-width:0">/</tspan><tspan x="822.3" dy="-3.2">z</tspan></text>
<text x="671.3" y="227.9" font-size="14.3" textLength="39.1" lengthAdjust="spacingAndGlyphs" class="b">271.22</text>
<text x="664.6" y="245.1" class="b" textLength="51.2" lengthAdjust="spacingAndGlyphs"><tspan font-size="12.9">C</tspan><tspan font-size="9.3" dy="2.6">18</tspan><tspan font-size="12.9" dy="-2.6">H</tspan><tspan font-size="9.3" dy="2.6">27</tspan><tspan font-size="12.9" dy="-2.6">N</tspan><tspan font-size="9.3" dy="2.6">2</tspan></text>
<text x="733" y="205.6" font-size="14.3" textLength="39.8" lengthAdjust="spacingAndGlyphs" class="b">274.25</text>
<text x="726.5" y="223.2" class="b" textLength="51.3" lengthAdjust="spacingAndGlyphs"><tspan font-size="12.9">C</tspan><tspan font-size="9.3" dy="2.6">19</tspan><tspan font-size="12.9" dy="-2.6">H</tspan><tspan font-size="9.3" dy="2.6">32</tspan><tspan font-size="12.9" dy="-2.6">N</tspan><tspan font-size="9.3" dy="2.6">1</tspan></text>
<text x="787.6" y="189.8" font-size="14.3" textLength="38.9" lengthAdjust="spacingAndGlyphs" class="b">276.27</text>
<text x="780.9" y="207.6" class="b" textLength="51" lengthAdjust="spacingAndGlyphs"><tspan font-size="12.9">C</tspan><tspan font-size="9.3" dy="2.6">19</tspan><tspan font-size="12.9" dy="-2.6">H</tspan><tspan font-size="9.3" dy="2.6">34</tspan><tspan font-size="12.9" dy="-2.6">N</tspan><tspan font-size="9.3" dy="2.6">1</tspan></text>
<text x="856.3" y="35.7" font-size="14.3" textLength="40" lengthAdjust="spacingAndGlyphs" class="b">279.28</text>
<text x="849.8" y="53.5" class="b" textLength="51.5" lengthAdjust="spacingAndGlyphs"><tspan font-size="12.9">C</tspan><tspan font-size="9.3" dy="2.6">18</tspan><tspan font-size="12.9" dy="-2.6">H</tspan><tspan font-size="9.3" dy="2.6">35</tspan><tspan font-size="12.9" dy="-2.6">N</tspan><tspan font-size="9.3" dy="2.6">2</tspan></text>
<text x="656" y="397.8" font-size="14.3" textLength="39" lengthAdjust="spacingAndGlyphs" class="b">269.20</text>
<text x="649.6" y="415.2" class="b" textLength="50.8" lengthAdjust="spacingAndGlyphs"><tspan font-size="12.9">C</tspan><tspan font-size="9.3" dy="2.6">18</tspan><tspan font-size="12.9" dy="-2.6">H</tspan><tspan font-size="9.3" dy="2.6">25</tspan><tspan font-size="12.9" dy="-2.6">N</tspan><tspan font-size="9.3" dy="2.6">2</tspan></text>
<text x="735.2" y="499.8" font-size="14.3" textLength="38.7" lengthAdjust="spacingAndGlyphs" class="b">273.23</text>
<text x="728.7" y="517.5" class="b" textLength="50.6" lengthAdjust="spacingAndGlyphs"><tspan font-size="12.9">C</tspan><tspan font-size="9.3" dy="2.6">18</tspan><tspan font-size="12.9" dy="-2.6">H</tspan><tspan font-size="9.3" dy="2.6">29</tspan><tspan font-size="12.9" dy="-2.6">N</tspan><tspan font-size="9.3" dy="2.6">2</tspan></text>
<text x="825.7" y="443.9" font-size="14.3" textLength="39.3" lengthAdjust="spacingAndGlyphs" class="b">279.19</text>
<text x="819.1" y="461.6" class="b" textLength="51.1" lengthAdjust="spacingAndGlyphs"><tspan font-size="12.9">C</tspan><tspan font-size="9.3" dy="2.6">19</tspan><tspan font-size="12.9" dy="-2.6">H</tspan><tspan font-size="9.3" dy="2.6">23</tspan><tspan font-size="12.9" dy="-2.6">N</tspan><tspan font-size="9.3" dy="2.6">2</tspan></text>
<text x="902.8" y="382.6" font-size="14.3" textLength="38.7" lengthAdjust="spacingAndGlyphs" class="b">283.22</text>
<text x="896.5" y="399.9" class="b" textLength="50.5" lengthAdjust="spacingAndGlyphs"><tspan font-size="12.9">C</tspan><tspan font-size="9.3" dy="2.6">19</tspan><tspan font-size="12.9" dy="-2.6">H</tspan><tspan font-size="9.3" dy="2.6">27</tspan><tspan font-size="12.9" dy="-2.6">N</tspan><tspan font-size="9.3" dy="2.6">2</tspan></text>
</svg></body></html>
